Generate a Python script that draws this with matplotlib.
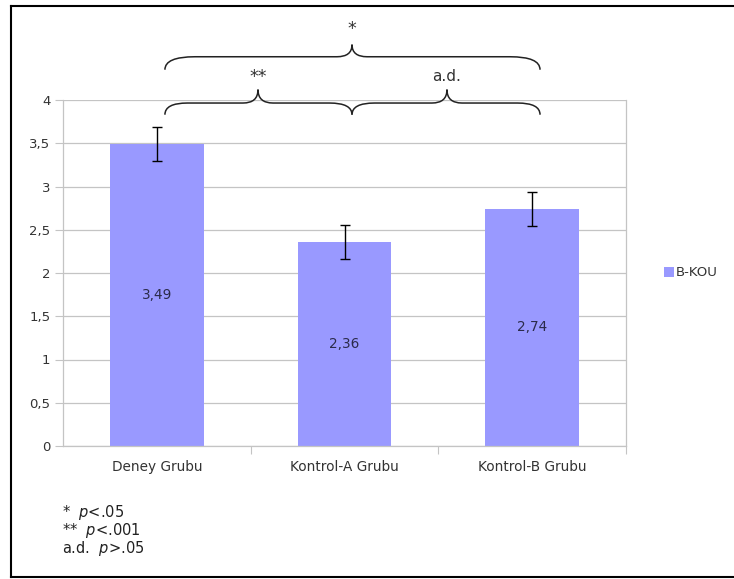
import matplotlib
matplotlib.use("Agg")
import matplotlib.pyplot as plt
from matplotlib.path import Path
from matplotlib.patches import PathPatch, Patch
from matplotlib.lines import Line2D

# Data
groups = ["Deney Grubu", "Kontrol-A Grubu", "Kontrol-B Grubu"]
means = [3.49, 2.36, 2.74]
errors = [0.2, 0.2, 0.2]
value_labels = ["3,49", "2,36", "2,74"]
series_name = "B-KOU"
y_ticks = [0, 0.5, 1, 1.5, 2, 2.5, 3, 3.5, 4]
y_tick_labels = ["0", "0,5", "1", "1,5", "2", "2,5", "3", "3,5", "4"]

bar_color = "#9999ff"
grid_color = "#c4c4c4"
text_color = "#333333"

fig = plt.figure(figsize=(7.34, 5.79), dpi=100)
ax = fig.add_axes([63 / 734, 1 - 446 / 579, (626 - 63) / 734, (446 - 100) / 579])

x = list(range(len(groups)))
ax.bar(x, means, width=0.5, color=bar_color, zorder=2)
ax.errorbar(x, means, yerr=errors, fmt="none", ecolor="black",
            elinewidth=1.0, capsize=3.6, capthick=1.0, zorder=3)
for xi, m, lab in zip(x, means, value_labels):
    ax.text(xi, m / 2, lab, ha="center", va="center", fontsize=9.8,
            color="#2b2b4a", zorder=4)

ax.set_xlim(-0.5, 2.5)
ax.set_ylim(0, 4)
ax.set_yticks(y_ticks)
ax.set_yticklabels(y_tick_labels)
ax.yaxis.grid(True, color=grid_color, linewidth=0.9, zorder=0)
ax.set_axisbelow(True)

# category labels centred on bars, tick marks on the category boundaries
ax.set_xticks([0.5, 1.5, 2.5])
ax.set_xticklabels([])
ax.set_xticks(x, minor=True)
ax.set_xticklabels(groups, minor=True)
ax.tick_params(axis="x", which="minor", length=0, pad=10,
               labelsize=9.8, labelcolor=text_color)
ax.tick_params(axis="x", which="major", length=6, color=grid_color)
ax.tick_params(axis="y", length=6, color=grid_color, labelsize=9.5,
               labelcolor=text_color, pad=3)

for s in ["left", "right", "bottom", "top"]:
    ax.spines[s].set_color(grid_color)
    ax.spines[s].set_linewidth(0.9)
ax.spines["top"].set_visible(False)


def brace(x0, x1, xm, y_line, y_end, y_peak, rx, rm):
    verts = [
        (x0, y_end),
        (x0, y_line), (x0 + rx, y_line),
        (xm - rm, y_line),
        (xm, y_line), (xm, y_peak),
        (xm, y_line), (xm + rm, y_line),
        (x1 - rx, y_line),
        (x1, y_line), (x1, y_end),
    ]
    codes = [Path.MOVETO,
             Path.CURVE3, Path.CURVE3,
             Path.LINETO,
             Path.CURVE3, Path.CURVE3,
             Path.CURVE3, Path.CURVE3,
             Path.LINETO,
             Path.CURVE3, Path.CURVE3]
    patch = PathPatch(Path(verts, codes), fill=False, edgecolor="#222222",
                      linewidth=1.1, clip_on=False, zorder=5)
    ax.add_patch(patch)


# lower braces: Deney vs Kontrol-A, Kontrol-A vs Kontrol-B
brace(0.043, 1.040, 0.539, 3.965, 3.83, 4.12, 0.12, 0.08)
brace(1.040, 2.042, 1.546, 3.965, 3.83, 4.12, 0.12, 0.08)
# upper brace: Deney vs Kontrol-B
brace(0.043, 2.042, 1.040, 4.50, 4.35, 4.64, 0.16, 0.08)

ax.text(0.539, 4.27, "**", ha="center", va="center", fontsize=12.5,
        color=text_color, clip_on=False)
ax.text(1.546, 4.27, "a.d.", ha="center", va="center", fontsize=11,
        color=text_color, clip_on=False)
ax.text(1.040, 4.82, "*", ha="center", va="center", fontsize=12.5,
        color=text_color, clip_on=False)

# legend
fig.legend(handles=[Patch(facecolor=bar_color, edgecolor="none", label=series_name)],
           loc="center left", bbox_to_anchor=(0.888, 1 - 273 / 579),
           frameon=False, handlelength=0.75, handleheight=0.75,
           handletextpad=0.2, fontsize=9.5, labelcolor=text_color)

# significance notes
notes = [("*", "p", "<.05"), ("**", "p", "<.001"), ("a.d.", "p", ">.05")]
for i, (sym, p, rest) in enumerate(notes):
    fig.text(62 / 734, 1 - (513 + 18 * i) / 579,
             sym + "  $\\it{p}$" + rest, fontsize=10.5, color="#222222",
             va="center", ha="left")

# outer frame (top, left, bottom)
frame_kw = dict(color="black", linewidth=1.5, transform=fig.transFigure)
fig.add_artist(Line2D([11 / 734, 1.0], [1 - 6 / 579, 1 - 6 / 579], **frame_kw))
fig.add_artist(Line2D([11 / 734, 11 / 734], [1 - 6 / 579, 1 - 577 / 579], **frame_kw))
fig.add_artist(Line2D([11 / 734, 1.0], [1 - 577 / 579, 1 - 577 / 579], **frame_kw))

fig.savefig("out.png", dpi=100)
